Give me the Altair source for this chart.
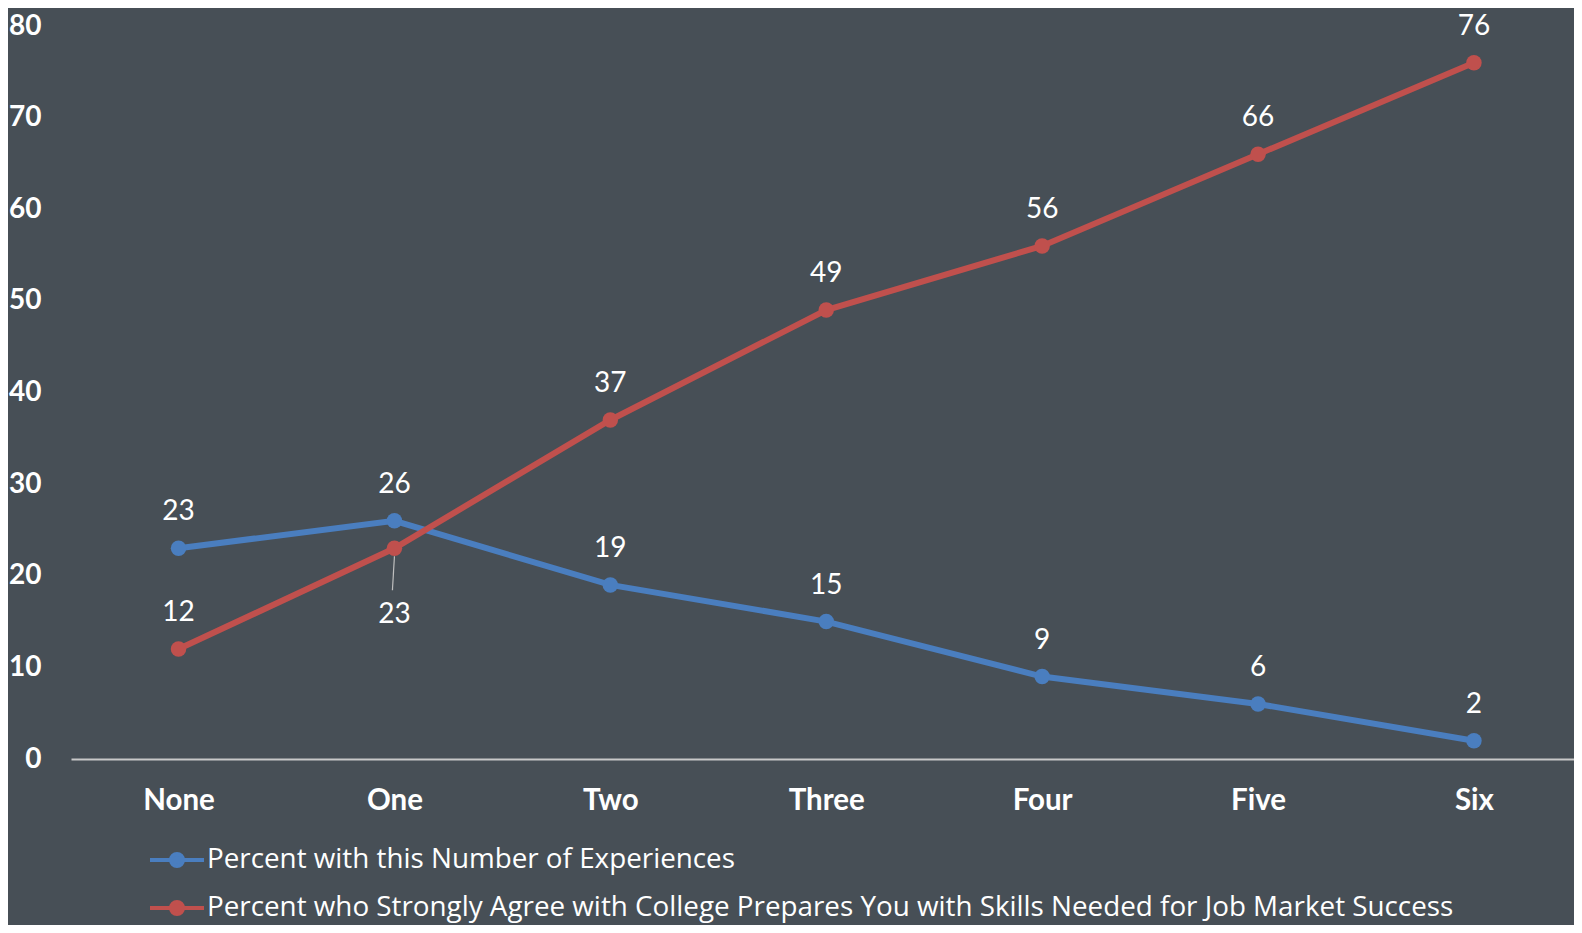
import altair as alt
import pandas as pd

categories = ["None", "One", "Two", "Three", "Four", "Five", "Six"]
series_names = [
    "Percent with this Number of Experiences",
    "Percent who Strongly Agree with College Prepares You with Skills Needed for Job Market Success",
]
experiences = [23, 26, 19, 15, 9, 6, 2]
agree = [12, 23, 37, 49, 56, 66, 76]
colors = ["#4A7EBF", "#C0504D"]

rows = []
for s, vals in zip(series_names, [experiences, agree]):
    for c, v in zip(categories, vals):
        rows.append({"cat": c, "series": s, "value": v})
df = pd.DataFrame(rows)

FONT = "Lato"
LEGEND_FONT = "Open Sans"
BG = "#474F56"

x = alt.X("cat:N", sort=categories, scale=alt.Scale(type="point", padding=0.4807, align=0.518),
          axis=alt.Axis(title=None, labelAngle=0, labelFontWeight="bold", labelFontSize=29.5,
                        labelColor="white", labelPadding=27, ticks=False,
                        domainColor="#C8C8C8", domainWidth=2, labelFont=FONT))
y = alt.Y("value:Q", scale=alt.Scale(domain=[0, 80], nice=False),
          axis=alt.Axis(title=None, values=[0, 10, 20, 30, 40, 50, 60, 70, 80], grid=False,
                        domain=False, ticks=False, labelFontWeight="bold", labelFontSize=28,
                        labelColor="white", labelPadding=30, labelFont=FONT))

color_scale = alt.Scale(domain=series_names, range=colors)

sym = "M-1.125,0L1.125,0M0.25,0A0.25,0.25,0,1,1,-0.25,0A0.25,0.25,0,1,1,0.25,0Z"
leg = alt.Legend(title=None, orient="none", legendX=80, legendY=808, symbolType=sym,
                 symbolSize=2304, symbolStrokeWidth=4, labelFontSize=27.8, labelColor="white",
                 labelFont=LEGEND_FONT, rowPadding=8, labelLimit=0, labelOffset=4,
                 symbolOpacity=1)

base = alt.Chart(df)

lines = base.mark_line(strokeWidth=6).encode(
    x=x, y=y, color=alt.Color("series:N", scale=color_scale, legend=leg, sort=series_names)
)

points = base.mark_point(filled=True, size=240, opacity=1).encode(
    x=x, y=y,
    color=alt.Color("series:N", scale=color_scale, legend=leg, sort=series_names),
)

is_special = (alt.datum.series == series_names[1]) & (alt.datum.cat == "One")

labels_above = base.transform_filter(~is_special).mark_text(
    dy=-36, fontSize=28, color="white", font=FONT, baseline="middle"
).encode(x=x, y=y, text="value:Q")

labels_below = base.transform_filter(is_special).mark_text(
    dy=67, fontSize=28, color="white", font=FONT, baseline="middle"
).encode(x=x, y=y, text="value:Q")

leader = base.transform_filter(is_special).mark_rule(
    color="#BFBFBF", strokeWidth=1.2, yOffset=8, y2Offset=42, x2Offset=-2
).encode(x=x, x2="cat:N", y=y, y2="value:Q")

chart = alt.layer(lines, leader, points, labels_above, labels_below).properties(
    width=1503, height=733,
    autosize=alt.AutoSizeParams(type="none"),
    padding={"left": 63, "top": 18, "right": 0, "bottom": 166},
    background=BG,
).configure(font=FONT).configure_view(strokeWidth=0, stroke="transparent")

chart.save("out.html", embed_options={"renderer": "svg", "actions": False})
